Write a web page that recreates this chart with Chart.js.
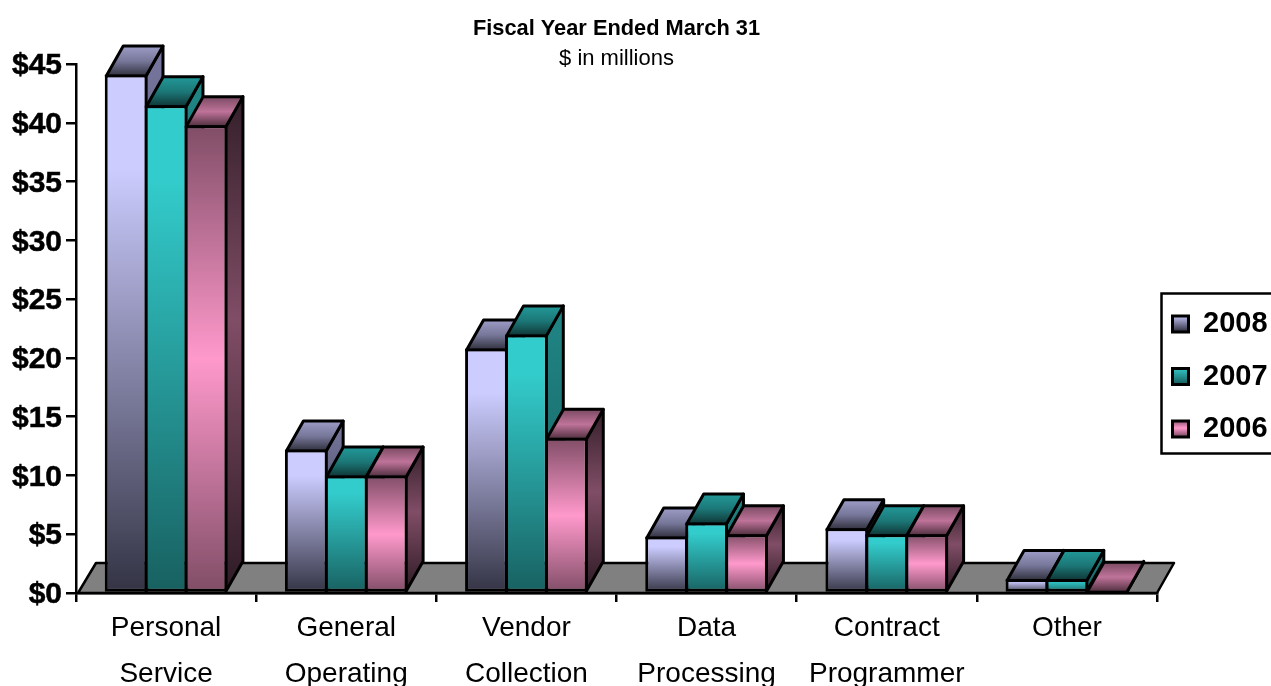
<!DOCTYPE html>
<html>
<head>
<meta charset="utf-8">
<style>html,body{margin:0;padding:0;background:#fff;overflow:hidden}canvas{display:block}</style>
<script src="https://cdn.jsdelivr.net/npm/chart.js@4"></script>
</head>
<body>
<canvas id="c" width="1271" height="686"></canvas>
<script>
const categories = [["Personal","Service"],["General","Operating"],["Vendor","Collection"],["Data","Processing"],["Contract","Programmer"],["Other"]];
const series2008 = [44.1, 12.2, 20.8, 4.8, 5.5, 1.2];
const series2007 = [41.5, 10.0, 22.0, 6.0, 5.0, 1.2];
const series2006 = [39.8, 10.0, 13.2, 5.0, 5.0, 0.2];
const seriesNames = ["2008","2007","2006"];
const titleText = "Fiscal Year Ended March 31";
const subtitleText = "$ in millions";
const FONT = '"Liberation Sans", Arial, sans-serif';

const palettes = [
  { front:[[0,'#CCCCFF'],[.18,'#CCCCFF'],[1,'#333344']],
    side:[[0,'#77779F'],[1,'#333344']],
    top:[[0,'#9C9CC6'],[.5,'#77779A'],[1,'#2F2F3C']],
    key:[[0,'#CCCCFF'],[1,'#333344']] },
  { front:[[0,'#33CCCC'],[.15,'#33CCCC'],[1,'#186060']],
    side:[[0,'#208585'],[1,'#186060']],
    top:[[0,'#229999'],[.5,'#1C7777'],[1,'#0F3535']],
    key:[[0,'#33CCCC'],[1,'#186060']] },
  { front:[[0,'#804D66'],[.5,'#FF99CC'],[1,'#804D66']],
    side:[[0,'#331F29'],[.45,'#804D66'],[1,'#2E1B25']],
    top:[[0,'#7A4A62'],[.5,'#BF7399'],[1,'#4D2E3D']],
    key:[[0,'#804D66'],[.5,'#FF99CC'],[1,'#804D66']] }
];
function grad(ctx, y0, y1, stops){
  const g = ctx.createLinearGradient(0, y0, 0, y1);
  stops.forEach(s => g.addColorStop(s[0], s[1]));
  return g;
}
function frontFill(pi){
  return function(c){
    const area = c.chart.chartArea;
    if(!area || c.type !== 'data') return palettes[pi].front[0][1];
    const yTop = c.chart.scales.y.getPixelForValue(c.raw);
    const yBase = c.chart.scales.y.getPixelForValue(0);
    return grad(c.chart.ctx, yTop, yBase, palettes[pi].front);
  };
}
const DEPTH_X = 17, DEPTH_Y = 30, LINE = 3;
function poly(ctx, pts, fill, lw){
  ctx.beginPath();
  pts.forEach((p,i)=> i ? ctx.lineTo(p[0],p[1]) : ctx.moveTo(p[0],p[1]));
  ctx.closePath();
  ctx.fillStyle = fill; ctx.fill();
  ctx.lineWidth = lw; ctx.strokeStyle = '#000'; ctx.lineJoin='round'; ctx.stroke();
}
const bars3d = {
  id:'bars3d',
  afterLayout(chart){
    const lg = chart.legend;
    lg.left = 1149; lg.right = 1271; lg.top = 286; lg.bottom = 520;
  },
  beforeDraw(chart){
    const s = chart.scales.y;
    s.getLabelItems(chart.chartArea).forEach(it => { it.options.translation[1] += 2; });
  },
  beforeDatasetsDraw(chart){
    const ctx = chart.ctx, a = chart.chartArea;
    ctx.save();
    poly(ctx, [[a.left+2,a.bottom],[a.left+2+DEPTH_X+1,a.bottom-DEPTH_Y],[a.right+DEPTH_X,a.bottom-DEPTH_Y],[a.right,a.bottom]], '#808080', 2.5);
    const n = categories.length, m = chart.data.datasets.length;
    for(let i=0;i<n;i++){
      for(let d=0;d<m;d++){
        const el = chart.getDatasetMeta(d).data[i];
        const hw = el.width/2 - LINE/2;
        const l = el.x-hw, r = el.x+hw, t = el.y+LINE/2, b = el.base-LINE/2+1;
        const p = palettes[d];
        poly(ctx, [[r,t],[r+DEPTH_X,t-DEPTH_Y],[r+DEPTH_X,b-DEPTH_Y],[r,b]], grad(ctx,t-DEPTH_Y,b,p.side), LINE);
        poly(ctx, [[l,t],[l+DEPTH_X,t-DEPTH_Y],[r+DEPTH_X,t-DEPTH_Y],[r,t]], grad(ctx,t-DEPTH_Y,t,p.top), LINE);
        el.draw(ctx);
      }
    }
    ctx.restore();
    return false;
  },
  afterDraw(chart){
    const ctx = chart.ctx;
    ctx.save();
    ctx.strokeStyle='#000'; ctx.lineWidth=2.5;
    ctx.strokeRect(1161.5,293.5,120,160);
    ctx.restore();
  }
};
const mk = (label,data,pi)=>({label,data,backgroundColor:frontFill(pi),borderColor:'#000',borderWidth:3,borderSkipped:false,
  categoryPercentage:0.6655,barPercentage:1.07});
new Chart(document.getElementById('c'),{
  type:'bar',
  data:{labels:categories,datasets:[mk(seriesNames[0],series2008,0),mk(seriesNames[1],series2007,1),mk(seriesNames[2],series2006,2)]},
  plugins:[bars3d],
  options:{
    responsive:false,animation:false,
    layout:{padding:{left:0,right:114,top:0,bottom:0}},
    plugins:{
      tooltip:{enabled:false},
      title:{display:true,text:titleText,color:'#000',fullSize:false,align:'center',
        font:{family:FONT,size:21.8,weight:'bold',lineHeight:26/21.8},padding:{top:16,bottom:0}},
      subtitle:{display:true,text:subtitleText,color:'#000',fullSize:false,align:'center',
        font:{family:FONT,size:22,weight:'normal',lineHeight:8/22},padding:{top:13,bottom:1}},
      legend:{display:true,position:'chartArea',align:'start',
        labels:{color:'#000',boxWidth:16,boxHeight:16,padding:23.5,font:{family:FONT,size:29,weight:'bold'},
          generateLabels(chart){
            return seriesNames.map((t,i)=>({text:t,datasetIndex:i,
              fillStyle:grad(chart.ctx,315+i*52.5,331+i*52.5,palettes[i].key),
              strokeStyle:'#000',lineWidth:3,fontColor:'#000'}));
          }}}
    },
    scales:{
      x:{
        afterFit(s){s.height=93;},
        grid:{drawOnChartArea:false,color:'#000',lineWidth:2.5,tickLength:9},
        border:{color:'#000',width:2.5},
        ticks:{color:'#000',padding:3,maxRotation:0,minRotation:0,autoSkip:false,
          font:{family:FONT,size:28,lineHeight:46/28}}
      },
      y:{
        min:0,max:45,
        afterFit(s){s.width=76;},
        grid:{drawOnChartArea:false,color:'#000',lineWidth:2.5,tickLength:10},
        border:{color:'#000',width:2.5},
        ticks:{color:'#000',stepSize:5,padding:4,textStrokeColor:'#000',textStrokeWidth:0.5,font:{family:FONT,size:30,weight:'bold'},
          callback:v=>'$'+v}
      }
    }
  }
});
</script>
</body>
</html>
